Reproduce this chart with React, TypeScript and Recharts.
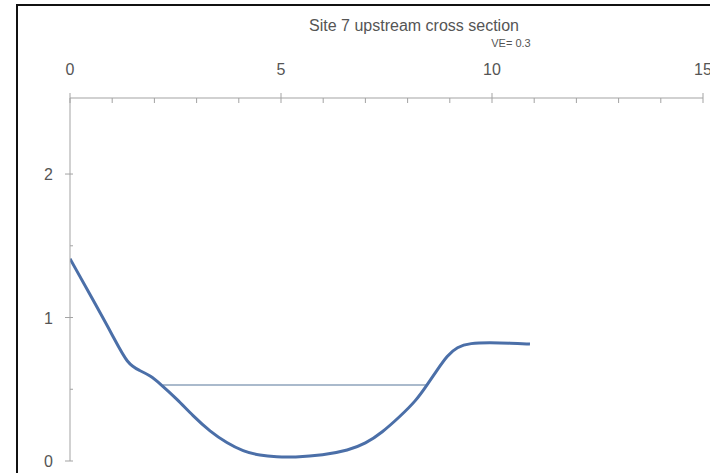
import React from 'react';
import { LineChart, Line, XAxis, YAxis } from 'recharts';

// Surveyed bed profile: distance across (m) and elevation (m)
const stations = [0, 0.55, 1.02, 1.37, 1.66, 1.9, 2.13, 2.54, 2.91, 3.32, 3.72, 4.1, 4.5, 4.9, 5.3, 6.0, 6.6, 7.0, 7.4, 7.8, 8.2, 8.46, 8.7, 8.94, 9.17, 9.48, 9.95, 10.43, 10.9];
const elevations = [1.41, 1.12, 0.87, 0.67, 0.63, 0.595, 0.54, 0.43, 0.315, 0.205, 0.125, 0.068, 0.038, 0.028, 0.026, 0.04, 0.075, 0.12, 0.2, 0.305, 0.42, 0.53, 0.634, 0.735, 0.795, 0.822, 0.825, 0.822, 0.815];

// Water surface between the two wetted banks
const waterStations = [2.2, 8.46];
const waterLevel = 0.53;

const xTicks = [0, 1, 2, 3, 4, 5, 6, 7, 8, 9, 10, 11, 12, 13, 14, 15];
const xLabels = [0, 5, 10, 15];
const yTicks = [0, 0.5, 1, 1.5, 2];
const yLabels = [0, 1, 2];

const title = 'Site 7 upstream cross section';
const subtitle = 'VE= 0.3';

const bedData = stations.map((x, i) => ({ x, y: elevations[i] }));
const waterData = waterStations.map((x) => ({ x, y: waterLevel }));

const FONT = '"Liberation Sans", Arial, sans-serif';
const AXIS = '#a3a3a3';
const TEXT = '#555555';

const XTick = (props: any) => {
  const { x, y, payload } = props;
  const major = xLabels.includes(payload.value);
  return (
    <g>
      <line x1={x} x2={x} y1={major ? y - 5 : y} y2={y + 5} stroke={AXIS} strokeWidth={1} />
      {major && (
        <text x={x} y={y - 23} textAnchor="middle" fontSize={16} fill={TEXT} fontFamily={FONT}>
          {payload.value}
        </text>
      )}
    </g>
  );
};

const YTick = (props: any) => {
  const { x, y, payload } = props;
  const major = yLabels.includes(payload.value);
  return (
    <g>
      <line x1={major ? x - 5 : x} x2={x + 3} y1={y} y2={y} stroke={AXIS} strokeWidth={1} />
      {major && (
        <text x={x - 17} y={y + 6} textAnchor="end" fontSize={16} fill={TEXT} fontFamily={FONT}>
          {payload.value}
        </text>
      )}
    </g>
  );
};

export default function App() {
  return (
    <div style={{ position: 'absolute', left: 0, top: 0, width: 710, height: 473, overflow: 'hidden', background: '#fff' }}>
      <div
        style={{
          position: 'absolute',
          left: 16,
          top: 4,
          width: 740,
          height: 520,
          border: '2px solid #111',
          boxSizing: 'border-box',
        }}
      />
      <div style={{ position: 'absolute', left: 0, top: 0 }}>
        <LineChart width={710} height={473} margin={{ top: 60, right: 7, bottom: 12, left: 30 }}>
          <XAxis
            dataKey="x"
            type="number"
            orientation="top"
            domain={[0, 15]}
            ticks={xTicks}
            interval={0}
            height={38}
            tickSize={0}
            tickMargin={0}
            tickLine={false}
            tick={<XTick />}
            axisLine={{ stroke: AXIS, strokeWidth: 1 }}
            allowDataOverflow
          />
          <YAxis
            dataKey="y"
            type="number"
            domain={[0, 2.53]}
            ticks={yTicks}
            interval={0}
            width={40}
            tickSize={0}
            tickMargin={0}
            tickLine={false}
            tick={<YTick />}
            axisLine={{ stroke: AXIS, strokeWidth: 1 }}
            allowDataOverflow
          />
          <Line
            data={waterData}
            dataKey="y"
            type="linear"
            stroke="#8ea3bb"
            strokeWidth={1.5}
            dot={false}
            isAnimationActive={false}
          />
          <Line
            data={bedData}
            dataKey="y"
            type="basis"
            stroke="#4b6fa8"
            strokeWidth={3}
            dot={false}
            isAnimationActive={false}
          />
          <text x={414} y={31} textAnchor="middle" fontSize={16} fill={TEXT} fontFamily={FONT}>
            {title}
          </text>
          <text x={511} y={47} textAnchor="middle" fontSize={11} fill={TEXT} fontFamily={FONT}>
            {subtitle}
          </text>
        </LineChart>
      </div>
    </div>
  );
}
